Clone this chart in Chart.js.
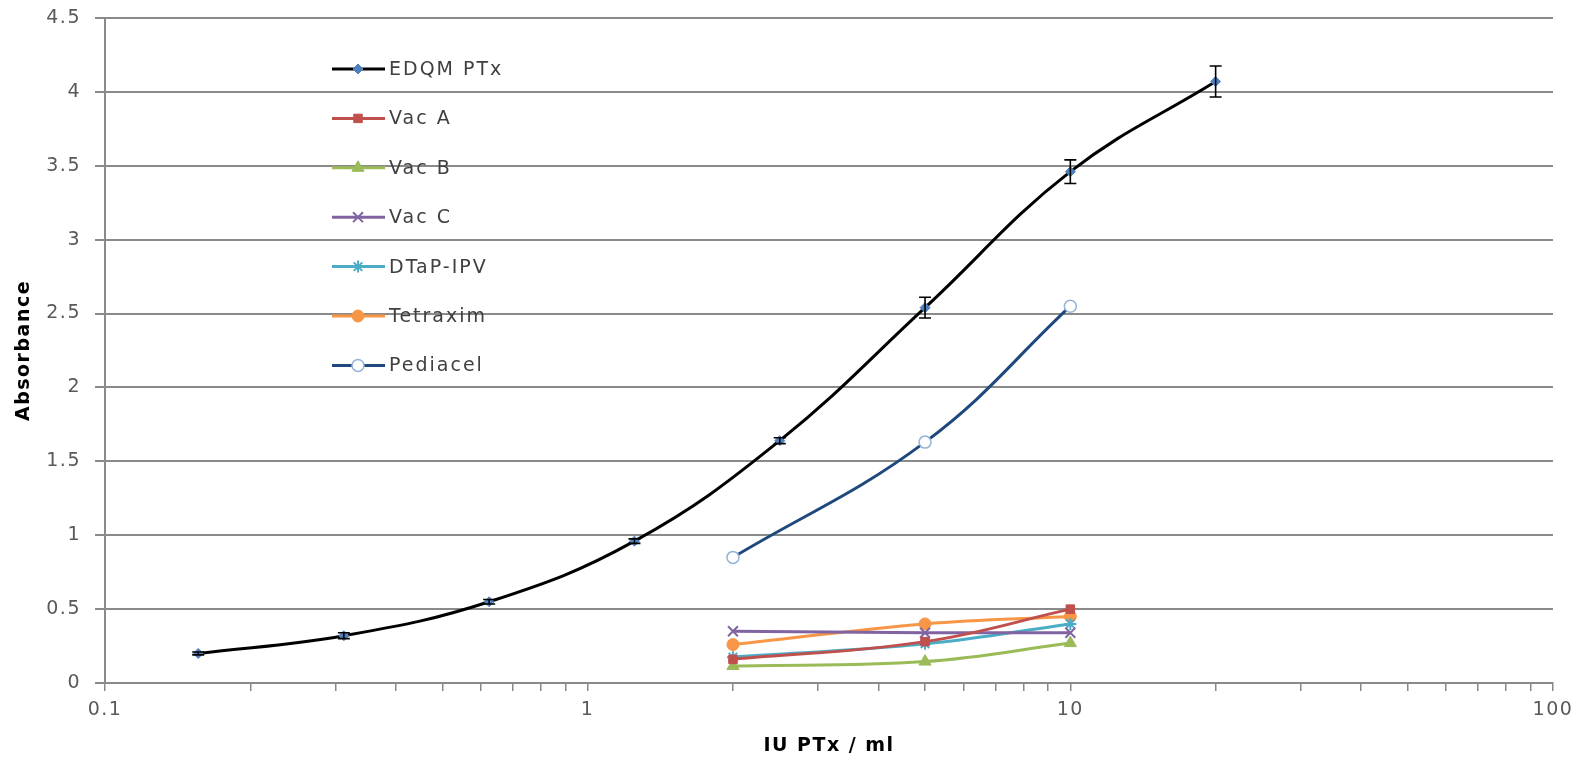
<!DOCTYPE html>
<html>
<head>
<meta charset="utf-8">
<script src="https://cdn.jsdelivr.net/npm/chart.js@4/dist/chart.umd.min.js"></script>
<style>
  html, body { margin: 0; padding: 0; background: #fff; }
  #wrap { width: 1587px; height: 771px; }
</style>
</head>
<body>
<div id="wrap"><canvas id="absChart"></canvas></div>
<script>
// Konsentrasi (IU PTx / ml)
const edqmDose = [0.156, 0.3125, 0.625, 1.25, 2.5, 5, 10, 20];
const sampleDose = [2, 5, 10];

// Absorbansi tiap seri
const edqmAbs = [0.20, 0.32, 0.55, 0.96, 1.64, 2.54, 3.46, 4.07];
const edqmErr = [0.01, 0.02, 0.015, 0.015, 0.02, 0.07, 0.08, 0.105];
const vacA = [0.16, 0.28, 0.50];
const vacB = [0.115, 0.145, 0.27];
const vacC = [0.35, 0.34, 0.34];
const dtapIpv = [0.175, 0.265, 0.40];
const tetraxim = [0.26, 0.40, 0.45];
const pediacel = [0.85, 1.63, 2.55];

const seriesNames = ["EDQM PTx", "Vac A", "Vac B", "Vac C", "DTaP-IPV", "Tetraxim", "Pediacel"];
const xTickLabels = ["0.1", "1", "10", "100"];
const xDecades = [0.1, 1, 10, 100];

const GRID = "#8a8a8a";
const TICK_FONT = { family: "DejaVu Sans", size: 19 };
const TITLE_FONT = { family: "DejaVu Sans", size: 19, weight: "bold" };

function toPoints(xs, ys) {
  return xs.map((x, i) => ({ x: x, y: ys[i] }));
}

function series(label, xs, ys, color, style, extra) {
  return Object.assign({
    label: label,
    data: toPoints(xs, ys),
    borderColor: color,
    backgroundColor: color,
    pointBackgroundColor: color,
    pointBorderColor: color,
    borderWidth: 3,
    pointStyle: style,
    pointRadius: 6,
    pointBorderWidth: 1,
    tension: 0.4,
  }, extra || {});
}

// Error bar untuk kurva standar EDQM
const errorBars = {
  id: "errorBars",
  afterDatasetsDraw(chart) {
    const ctx = chart.ctx;
    const xs = chart.scales.x, ys = chart.scales.y;
    ctx.save();
    ctx.strokeStyle = "#000";
    ctx.lineWidth = 1.6;
    edqmDose.forEach((d, i) => {
      const x = xs.getPixelForValue(d);
      const top = ys.getPixelForValue(edqmAbs[i] + edqmErr[i]);
      const bot = ys.getPixelForValue(edqmAbs[i] - edqmErr[i]);
      ctx.beginPath();
      ctx.moveTo(x, top); ctx.lineTo(x, bot);
      ctx.moveTo(x - 6, top); ctx.lineTo(x + 6, top);
      ctx.moveTo(x - 6, bot); ctx.lineTo(x + 6, bot);
      ctx.stroke();
    });
    ctx.restore();
  },
};

// Legenda di dalam area grafik
const innerLegend = {
  id: "innerLegend",
  afterDraw(chart) {
    const ctx = chart.ctx;
    chart.data.datasets.forEach((ds, i) => {
      const y = 69 + i * 49.4;
      ctx.save();
      ctx.strokeStyle = ds.borderColor;
      ctx.lineWidth = 3;
      ctx.beginPath();
      ctx.moveTo(332, y); ctx.lineTo(385, y);
      ctx.stroke();
      ctx.fillStyle = ds.pointBackgroundColor;
      ctx.strokeStyle = ds.pointBorderColor;
      ctx.lineWidth = ds.pointBorderWidth;
      Chart.helpers.drawPoint(ctx, {
        pointStyle: ds.pointStyle, radius: ds.pointRadius,
        borderWidth: ds.pointBorderWidth, rotation: 0,
      }, 358, y);
      ctx.letterSpacing = "2px";
      ctx.fillStyle = "#404040";
      ctx.font = "19px 'DejaVu Sans'";
      ctx.textBaseline = "middle";
      ctx.fillText(ds.label, 389, y + 1);
      ctx.restore();
    });
  },
};

const spacing = {
  id: "spacing",
  beforeDraw(chart) { chart.ctx.letterSpacing = "1.5px"; },
};

const datasets = [
  series(seriesNames[0], edqmDose, edqmAbs, "#000000", "rectRot",
    { pointBackgroundColor: "#4f81bd", pointBorderColor: "#4f81bd", pointRadius: 5 }),
  series(seriesNames[1], sampleDose, vacA, "#c0504d", "rect"),
  series(seriesNames[2], sampleDose, vacB, "#9bbb59", "triangle", { pointRadius: 7 }),
  series(seriesNames[3], sampleDose, vacC, "#8064a2", "crossRot", { pointBorderWidth: 2, pointRadius: 7 }),
  series(seriesNames[4], sampleDose, dtapIpv, "#4bacc6", "star", { pointBorderWidth: 2 }),
  series(seriesNames[5], sampleDose, tetraxim, "#f79646", "circle"),
  series(seriesNames[6], sampleDose, pediacel, "#1f497d", "circle",
    { pointBackgroundColor: "#ffffff", pointBorderColor: "#95b3d7", pointBorderWidth: 1.5 }),
];

const ctx = document.getElementById("absChart").getContext("2d");
const absChart = new Chart(ctx, {
  type: "line",
  data: { datasets: datasets },
  options: {
    responsive: true,
    maintainAspectRatio: false,
    animation: false,
    layout: { padding: { top: 18, right: 34, left: 0, bottom: 0 } },
    plugins: { legend: { display: false }, tooltip: { enabled: false } },
    scales: {
      x: {
        type: "logarithmic",
        min: 0.1,
        max: 100,
        afterBuildTicks(scale) {
          const ticks = [];
          xDecades.forEach((d) => {
            const last = d === 100 ? 1 : 9;
            for (let k = 1; k <= last; k++) ticks.push({ value: +(d * k).toPrecision(3) });
          });
          scale.ticks = ticks;
        },
        afterFit(scale) {
          scale.height = 88;
          scale.paddingLeft = 0;
          scale.paddingRight = 0;
        },
        ticks: {
          autoSkip: false,
          maxRotation: 0,
          padding: 8,
          color: "#595959",
          font: TICK_FONT,
          callback(value) {
            const idx = xDecades.indexOf(value);
            return idx >= 0 ? xTickLabels[idx] : "";
          },
        },
        grid: { drawOnChartArea: false, drawTicks: true, tickLength: 8, color: GRID, lineWidth: 1.5 },
        border: { color: GRID, width: 2 },
        title: {
          display: true,
          text: "IU PTx / ml",
          color: "#000",
          font: TITLE_FONT,
          padding: { top: 0, bottom: 14 },
        },
      },
      y: {
        min: 0,
        max: 4.5,
        afterFit(scale) {
          scale.width = 105;
          scale.paddingTop = 0;
          scale.paddingBottom = 0;
        },
        ticks: {
          stepSize: 0.5,
          padding: 14,
          color: "#595959",
          font: TICK_FONT,
          callback: (value) => String(value),
        },
        grid: { color: GRID, lineWidth: 2, tickLength: 10 },
        border: { color: GRID, width: 2 },
        title: {
          display: true,
          text: "Absorbance",
          color: "#000",
          font: TITLE_FONT,
          padding: { top: 13, bottom: 0 },
        },
      },
    },
  },
  plugins: [spacing, errorBars, innerLegend],
});
</script>
</body>
</html>
